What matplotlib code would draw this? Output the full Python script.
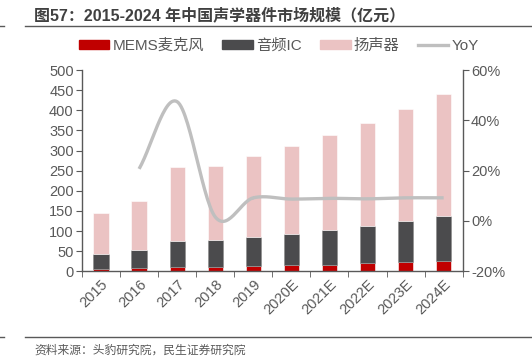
import matplotlib
matplotlib.use('Agg')
import matplotlib.pyplot as plt
import numpy as np
from matplotlib.patches import Patch
from matplotlib.lines import Line2D

plt.rcParams['font.family'] = ['Liberation Sans', 'Noto Sans CJK SC', 'DejaVu Sans']

years = ['2015', '2016', '2017', '2018', '2019', '2020E', '2021E', '2022E', '2023E', '2024E']
mems = [5, 7, 10, 10, 12, 15, 16, 20, 22, 26]
audio_ic = [39, 45, 65, 68, 73, 78, 87, 93, 102, 111]
speaker = [101, 123, 183, 184, 201, 218, 236, 256, 279, 303]
yoy = [None, 20.7, 47.4, 1.6, 9.2, 8.7, 9.0, 8.8, 9.2, 9.2]

c_mems = '#C00000'
c_ic = '#4B4B4D'
c_spk = '#EBC3C3'
c_yoy = '#BFBFBF'
c_axis = '#595959'


def smooth(xs, ys, n=30):
    # catmull-rom, roughly what Excel does for a "smoothed line"
    xs = np.asarray(xs, float)
    ys = np.asarray(ys, float)
    px = np.concatenate([[2 * xs[0] - xs[1]], xs, [2 * xs[-1] - xs[-2]]])
    py = np.concatenate([[2 * ys[0] - ys[1]], ys, [2 * ys[-1] - ys[-2]]])
    ox, oy = [], []
    for i in range(1, len(px) - 2):
        t = np.linspace(0, 1, n)
        for p, out in ((px, ox), (py, oy)):
            p0, p1, p2, p3 = p[i - 1], p[i], p[i + 1], p[i + 2]
            out.extend(0.5 * (2 * p1 + (-p0 + p2) * t
                              + (2 * p0 - 5 * p1 + 4 * p2 - p3) * t ** 2
                              + (-p0 + 3 * p1 - 3 * p2 + p3) * t ** 3))
    return np.array(ox), np.array(oy)


fig = plt.figure(figsize=(5.32, 3.61), dpi=100)
ax = fig.add_axes([82 / 532, 1 - 271.3 / 361, (462.7 - 82) / 532, (271.3 - 70) / 361])

x = np.arange(len(years))
w = 0.4
mems_a = np.array(mems)
ic_a = np.array(audio_ic)
spk_a = np.array(speaker)
ax.bar(x, mems_a, w, color=c_mems, edgecolor='white', linewidth=0.4, zorder=2)
ax.bar(x, ic_a, w, bottom=mems_a, color=c_ic, edgecolor='#8a8a8a', linewidth=0.4, zorder=2)
ax.bar(x, spk_a, w, bottom=mems_a + ic_a, color=c_spk, edgecolor='white', linewidth=0.4, zorder=2)

ax.set_xlim(-0.5, len(years) - 0.5)
ax.set_ylim(0, 500)
ax.set_yticks(np.arange(0, 501, 50))
ax.set_xticks(x)
ax.set_xticklabels(years, rotation=45, ha='right', rotation_mode='anchor')
ax.set_xticks(np.arange(-0.5, len(years), 1), minor=True)
ax.tick_params(axis='x', which='major', length=0, pad=4, labelsize=10.5, colors=c_axis)
ax.tick_params(axis='x', which='minor', length=4, direction='out', color=c_axis)
ax.tick_params(axis='y', length=4, direction='out', labelsize=10.5, colors=c_axis, pad=2)
for s in ['top', 'right']:
    ax.spines[s].set_visible(False)
for s in ['left', 'bottom']:
    ax.spines[s].set_color(c_axis)
    ax.spines[s].set_linewidth(1.0)

ax2 = ax.twinx()
xi = [i for i, v in enumerate(yoy) if v is not None]
yv = [v for v in yoy if v is not None]
sx, sy = smooth(xi, yv)
ax2.plot(sx, sy, color=c_yoy, linewidth=2.4, solid_capstyle='butt', zorder=3)
ax2.set_ylim(-20, 60)
ax2.set_yticks(np.arange(-20, 61, 20))
ax2.set_yticklabels([f'{v}%' for v in range(-20, 61, 20)])
ax2.tick_params(axis='y', length=4, direction='out', labelsize=10.5, colors=c_axis, pad=2)
for s in ['top', 'left', 'bottom']:
    ax2.spines[s].set_visible(False)
ax2.spines['right'].set_color(c_axis)
ax2.spines['right'].set_linewidth(1.0)

handles = [Patch(color=c_mems), Patch(color=c_ic), Patch(color=c_spk),
           Line2D([0], [0], color=c_yoy, linewidth=2.4)]
fig.legend(handles, ['MEMS麦克风', '音频IC', '扬声器', 'YoY'], loc='center',
           bbox_to_anchor=(0.524, 1 - 46 / 361), ncol=4, frameon=False,
           fontsize=11, handlelength=2.0, handleheight=0.5, columnspacing=1.2,
           handletextpad=0.2, labelcolor=c_axis)

fig.text(34 / 532, 1 - 15 / 361, '图57：2015-2024 年中国声学器件市场规模（亿元）',
         fontsize=11.5, fontweight='bold', color='#404040', va='center', ha='left')
for yy in (26, 337):
    fig.add_artist(Line2D([25 / 532, 1], [1 - yy / 361] * 2, color='#595959', linewidth=1.0))
    fig.add_artist(Line2D([0, 4 / 532], [1 - yy / 361] * 2, color='#595959', linewidth=1.0))
fig.text(34 / 532, 1 - 351 / 361, '资料来源：头豹研究院，民生证券研究院',
         fontsize=8.5, color='#595959', va='center', ha='left')

fig.savefig('out.png', dpi=100)
